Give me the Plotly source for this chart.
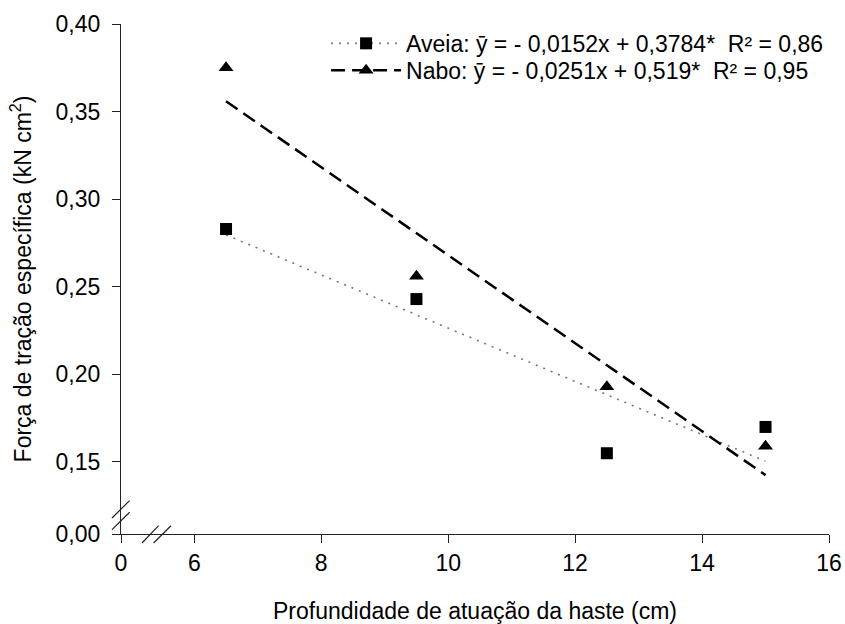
import plotly.graph_objects as go

# ---- data ----
depth = [6.5, 9.5, 12.5, 15]
aveia = [0.283, 0.243, 0.155, 0.170]
nabo = [0.375, 0.256, 0.193, 0.159]
trend_x = [6.5, 15]
aveia_trend = [0.2796, 0.1504]
nabo_trend = [0.3559, 0.1425]

x_break = 4.845   # axis origin labelled "0" (broken axis)
y_break = 0.1089  # axis origin labelled "0,00" (broken axis)
x_ticks = [x_break, 6, 8, 10, 12, 14, 16]
x_ticktext = ["0", "6", "8", "10", "12", "14", "16"]
y_ticks = [y_break, 0.15, 0.20, 0.25, 0.30, 0.35, 0.40]
y_ticktext = ["0,00", "0,15", "0,20", "0,25", "0,30", "0,35", "0,40"]

aveia_label = 'Aveia: \u0233 = - 0,0152x + 0,3784*\u00a0\u00a0R² = 0,86'
nabo_label = 'Nabo: \u0233 = - 0,0251x + 0,519*\u00a0\u00a0R² = 0,95'

FONT = "Liberation Sans, Arial, sans-serif"
FS = 23
W, H = 845, 624
ML, MR, MT, MB = 121, 16, 24, 90
PW, PH = W - ML - MR, H - MT - MB

aveia_line = dict(color="#777777", width=1.6, dash="2px,6px")
nabo_line = dict(color="black", width=2.5, dash="14px,7px")

fig = go.Figure()
# trend lines
fig.add_trace(go.Scatter(x=trend_x, y=aveia_trend, mode="lines", line=aveia_line,
                         showlegend=False, hoverinfo="skip"))
fig.add_trace(go.Scatter(x=trend_x, y=nabo_trend, mode="lines", line=nabo_line,
                         showlegend=False, hoverinfo="skip"))
# observed points
fig.add_trace(go.Scatter(x=depth, y=aveia, mode="markers",
                         marker=dict(symbol="square", size=12, color="black"),
                         showlegend=False))
fig.add_trace(go.Scatter(x=depth, y=nabo, mode="markers",
                         marker=dict(symbol="triangle-up", size=13, color="black"),
                         showlegend=False))
# legend entries (marker + trend line style)
fig.add_trace(go.Scatter(x=[None], y=[None], mode="lines+markers", name=aveia_label,
                         line=aveia_line, legend="legend",
                         marker=dict(symbol="square", size=12, color="black")))
fig.add_trace(go.Scatter(x=[None], y=[None], mode="lines+markers", name=nabo_label,
                         line=nabo_line, legend="legend2",
                         marker=dict(symbol="triangle-up", size=13, color="black")))

axis_common = dict(showline=True, linecolor="#222222", linewidth=1.3, ticks="outside",
                   ticklen=8, tickwidth=1.3, tickcolor="#222222", showgrid=False,
                   zeroline=False, automargin=False,
                   tickfont=dict(family=FONT, size=FS, color="black"))

fig.update_xaxes(range=[x_break, 16], tickmode="array", tickvals=x_ticks,
                 ticktext=x_ticktext,
                 title=dict(text="Profundidade de atuação da haste (cm)",
                            font=dict(family=FONT, size=FS, color="black"), standoff=28),
                 **axis_common)
fig.update_yaxes(range=[y_break, 0.40], tickmode="array", tickvals=y_ticks,
                 ticktext=y_ticktext, ticklabelstandoff=7,
                 title=dict(text="Força de tração específica (kN cm<sup>2</sup>)",
                            font=dict(family=FONT, size=FS, color="black"), standoff=17),
                 **axis_common)

# axis-break marks (pixel offsets from the plot's lower-left corner)
breaks = [((-9, 16), (8.6, 33.4)), ((-9, 4.4), (8.6, 21.7)),
          ((21, -9), (37.6, 8.3)), ((32.6, -9), (50, 8.3))]
for (a, b) in breaks:
    fig.add_shape(type="line", xref="paper", yref="paper",
                  x0=a[0] / PW, y0=a[1] / PH, x1=b[0] / PW, y1=b[1] / PH,
                  line=dict(color="#222222", width=1.2))

legend_common = dict(xanchor="left", yanchor="top", bgcolor="rgba(0,0,0,0)",
                     bordercolor="rgba(0,0,0,0)", borderwidth=4,
                     font=dict(family=FONT, size=FS, color="black"), itemwidth=70)

fig.update_layout(
    width=W, height=H, autosize=False,
    margin=dict(l=ML, r=MR, t=MT, b=MB),
    paper_bgcolor="white", plot_bgcolor="white",
    font=dict(family=FONT, size=FS, color="black"),
    legend=dict(x=0.284, y=1.012, **legend_common),
    legend2=dict(x=0.284, y=0.959, **legend_common),
)

fig.write_html("out.html")
